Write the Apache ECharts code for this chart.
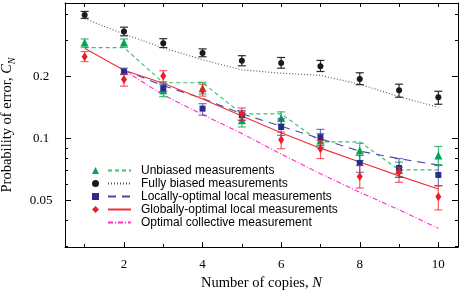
<!DOCTYPE html>
<html><head><meta charset="utf-8">
<script src="https://cdn.jsdelivr.net/npm/echarts@6/dist/echarts.min.js"></script>
<style>html,body{margin:0;padding:0;background:#fff}#c{width:463px;height:298px}</style>
</head><body><div id="c"></div>
<script>
// ---- data ----
const N = [1, 2, 3, 4, 5, 6, 7, 8, 9, 10];
const N2 = [2, 3, 4, 5, 6, 7, 8, 9, 10];

const unbiasedPts  = [0.293, 0.293, 0.172, 0.176, 0.123, 0.126, 0.098, 0.0877, 0.0705, 0.0828];
const unbiasedLow  = [0.278, 0.278, 0.160, 0.165, 0.114, 0.118, 0.091, 0.0783, 0.065, 0.0749];
const unbiasedHigh = [0.305, 0.305, 0.186, 0.188, 0.135, 0.135, 0.106, 0.0951, 0.077, 0.0917];
const unbiasedTh   = [0.277, 0.277, 0.187, 0.187, 0.132, 0.132, 0.0965, 0.0965, 0.0706, 0.0706];

const biasedPts  = [0.399, 0.332, 0.291, 0.261, 0.239, 0.233, 0.225, 0.195, 0.172, 0.159];
const biasedLow  = [0.384, 0.316, 0.277, 0.250, 0.226, 0.220, 0.212, 0.183, 0.159, 0.147];
const biasedHigh = [0.415, 0.348, 0.306, 0.273, 0.253, 0.248, 0.240, 0.209, 0.184, 0.170];
const biasedTh   = [0.383, 0.322, 0.276, 0.242, 0.216, 0.208, 0.203, 0.184, 0.160, 0.142];

const localPts  = [0.212, 0.176, 0.140, 0.130, 0.114, 0.1018, 0.0763, 0.0721, 0.0667];
const localLow  = [0.205, 0.170, 0.130, 0.123, 0.1038, 0.0927, 0.0687, 0.0649, 0.0591];
const localHigh = [0.220, 0.183, 0.148, 0.137, 0.125, 0.111, 0.0829, 0.0801, 0.0741];
const localTh   = [0.215, 0.181, 0.157, 0.132, 0.115, 0.100, 0.087, 0.080, 0.0745];

const globalPts  = [0.250, 0.194, 0.2016, 0.172, 0.132, 0.0988, 0.0893, 0.0656, 0.069, 0.0522];
const globalLow  = [0.237, 0.180, 0.189, 0.161, 0.1228, 0.0894, 0.0801, 0.0576, 0.0614, 0.0451];
const globalHigh = [0.265, 0.206, 0.214, 0.184, 0.141, 0.1077, 0.098, 0.0741, 0.0726, 0.0591];
const globalTh   = [0.275, 0.215, 0.186, 0.156, 0.129, 0.107, 0.090, 0.077, 0.066, 0.057];

const collectiveTh = [0.215, 0.163, 0.131, 0.106, 0.0842, 0.0676, 0.055, 0.0452, 0.0367];

const xLabelTicks = [2, 4, 6, 8, 10];
const xOddTicks = [1, 3, 5, 7, 9];
const yMajorTicks = [0.05, 0.1, 0.2];
const yMinorTicks = [0.03, 0.04, 0.06, 0.07, 0.08, 0.09, 0.3, 0.4];

const names = {
  ub: 'Unbiased measurements',
  fb: 'Fully biased measurements',
  lo: 'Locally-optimal local measurements',
  go: 'Globally-optimal local measurements',
  oc: 'Optimal collective measurement'
};

// ---- helpers ----
const pairs = (xs, ys) => xs.map((x, i) => [x, ys[i]]);
const triples = (xs, lo, hi) => xs.map((x, i) => [x, lo[i], hi[i]]);
function errSeries(xs, lo, hi, color, z) {
  return {
    type: 'custom', z: z, silent: true,
    xAxisIndex: 0, yAxisIndex: 0,
    dimensions: ['x', 'lo', 'hi'],
    encode: { x: 0, y: [1, 2] },
    data: triples(xs, lo, hi),
    renderItem: function (params, api) {
      const x = api.value(0);
      const a = api.coord([x, api.value(1)]);
      const b = api.coord([x, api.value(2)]);
      const w = 4;
      const st = { stroke: color, lineWidth: 1.2 };
      return { type: 'group', children: [
        { type: 'line', shape: { x1: a[0], y1: a[1], x2: b[0], y2: b[1] }, style: st },
        { type: 'line', shape: { x1: a[0] - w, y1: a[1], x2: a[0] + w, y2: a[1] }, style: st },
        { type: 'line', shape: { x1: b[0] - w, y1: b[1], x2: b[0] + w, y2: b[1] }, style: st }
      ]};
    }
  };
}

const FS = 'Liberation Serif';
const yMin = 0.0298, yMax = 0.456;
const fmtNum = v => String(+Number(v).toPrecision(3));

const baseY = (pos, ticks, len, line, labels) => ({
  type: 'log', logBase: 10, min: yMin, max: yMax, position: pos,
  axisLine: { show: line, onZero: false, lineStyle: { color: '#000', width: 1 } },
  axisTick: { show: true, inside: true, length: len, customValues: ticks, lineStyle: { color: '#000' } },
  axisLabel: labels ? { show: true, customValues: ticks, formatter: fmtNum, fontFamily: FS, fontSize: 13, color: '#000', align: 'center', margin: 24 } : { show: false },
  splitLine: { show: false }, minorTick: { show: false }, minorSplitLine: { show: false }
});
const baseX = (pos, ticks, len, line, labels) => ({
  type: 'value', min: 0.5, max: 10.5, position: pos,
  axisLine: { show: line, onZero: false, lineStyle: { color: '#000', width: 1 } },
  axisTick: { show: true, inside: true, length: len, customValues: ticks, lineStyle: { color: '#000' } },
  axisLabel: labels ? { show: true, customValues: ticks, fontFamily: FS, fontSize: 13, color: '#000', margin: 11 } : { show: false },
  splitLine: { show: false }
});

const xMain = baseX('bottom', xLabelTicks, 5, true, true);
xMain.name = '{t|Number of copies, }{i|N}';
xMain.nameLocation = 'middle';
xMain.nameGap = 28;
xMain.nameTextStyle = { rich: {
  t: { fontFamily: FS, fontSize: 14.5, color: '#000' },
  i: { fontFamily: FS, fontSize: 14.5, fontStyle: 'italic', color: '#000' }
}};

const yMain = baseY('left', yMajorTicks, 6, true, true);
yMain.name = '{t|Probability of error, }{i|C}{s|N}';
yMain.nameLocation = 'middle';
yMain.nameGap = 49;
yMain.nameRotate = 90;
yMain.nameTextStyle = { rich: {
  t: { fontFamily: FS, fontSize: 14.5, color: '#000', lineHeight: 16, verticalAlign: 'top' },
  i: { fontFamily: FS, fontSize: 14.5, fontStyle: 'italic', color: '#000', lineHeight: 16, verticalAlign: 'top' },
  s: { fontFamily: FS, fontSize: 10, fontStyle: 'italic', color: '#000', lineHeight: 12, verticalAlign: 'top', padding: [7, 0, 0, 0] }
}};

const C = {
  ubM: '#00a651', ubL: '#35c072', ubE: 'rgba(0,166,81,0.75)',
  fbM: '#1a1a1a', fbL: '#555555', fbE: '#2a2a2a',
  loM: '#2b2b8f', loL: '#4a4aaa', loE: 'rgba(60,60,165,0.7)',
  goM: '#ee1c25', goL: '#f0303a', goE: 'rgba(238,28,37,0.7)',
  oc: '#ff2ccb'
};

const lineS = (name, xs, ys, color, type, z) => ({
  type: 'line', name: name, data: pairs(xs, ys), symbol: 'none', showSymbol: false,
  xAxisIndex: 0, yAxisIndex: 0, z: z, silent: true,
  lineStyle: { color: color, width: 1.1, type: type }, itemStyle: { color: color }
});
const ptS = (name, xs, ys, color, symbol, size, z) => ({
  type: 'scatter', name: name, data: pairs(xs, ys), symbol: symbol, symbolSize: size,
  xAxisIndex: 0, yAxisIndex: 0, z: z, silent: true,
  itemStyle: { color: color, opacity: 1 }
});

const option = {
  backgroundColor: '#fff',
  animation: false,
  grid: { left: 65, right: 5, top: 3, bottom: 51, containLabel: false, outerBoundsMode: 'none' },
  xAxis: [
    xMain,
    baseX('bottom', xOddTicks, 3, false, false),
    baseX('top', N, 4, true, false)
  ],
  yAxis: [
    yMain,
    baseY('left', yMinorTicks, 3, false, false),
    baseY('right', yMajorTicks, 6, true, false),
    baseY('right', yMinorTicks, 3, false, false)
  ],
  legend: [
    {
      data: ['ub', 'fb', 'lo', 'go'], orient: 'vertical', left: 92, top: 164, padding: 0,
      itemWidth: 7, itemHeight: 7, itemGap: 0, selectedMode: false,
      formatter: () => ' ',
      textStyle: { fontFamily: 'Liberation Sans', fontSize: 12, lineHeight: 13 }
    },
    {
      data: [names.ub, names.fb, names.lo, names.go, names.oc], orient: 'vertical', left: 107, top: 164, padding: 0,
      itemWidth: 23, itemHeight: 8, itemGap: 0, selectedMode: false,
      itemStyle: { opacity: 0 },
      textStyle: { fontFamily: 'Liberation Sans', fontSize: 12, lineHeight: 13, color: '#000', padding: [0, 0, 0, 5] }
    }
  ],
  series: [
    lineS(names.ub, N, unbiasedTh, C.ubL, [4, 3], 2),
    lineS(names.fb, N, biasedTh, C.fbL, [1, 2], 2),
    lineS(names.lo, N2, localTh, C.loL, [8, 6], 2),
    lineS(names.go, N, globalTh, C.goL, 'solid', 2),
    lineS(names.oc, N2, collectiveTh, C.oc, [5, 2, 1, 2], 2),
    errSeries(N, unbiasedLow, unbiasedHigh, C.ubE, 3),
    ptS('ub', N, unbiasedPts, C.ubM, 'triangle', 8, 4),
    errSeries(N, biasedLow, biasedHigh, C.fbE, 3),
    ptS('fb', N, biasedPts, C.fbM, 'circle', 6, 4),
    errSeries(N2, localLow, localHigh, C.loE, 5),
    ptS('lo', N2, localPts, C.loM, 'rect', 6, 6),
    errSeries(N, globalLow, globalHigh, C.goE, 7),
    ptS('go', N, globalPts, C.goM, 'diamond', [6, 9], 8)
  ]
};

const chart = echarts.init(document.getElementById('c'), null, { renderer: 'canvas' });
chart.setOption(option);
</script>
</body></html>
